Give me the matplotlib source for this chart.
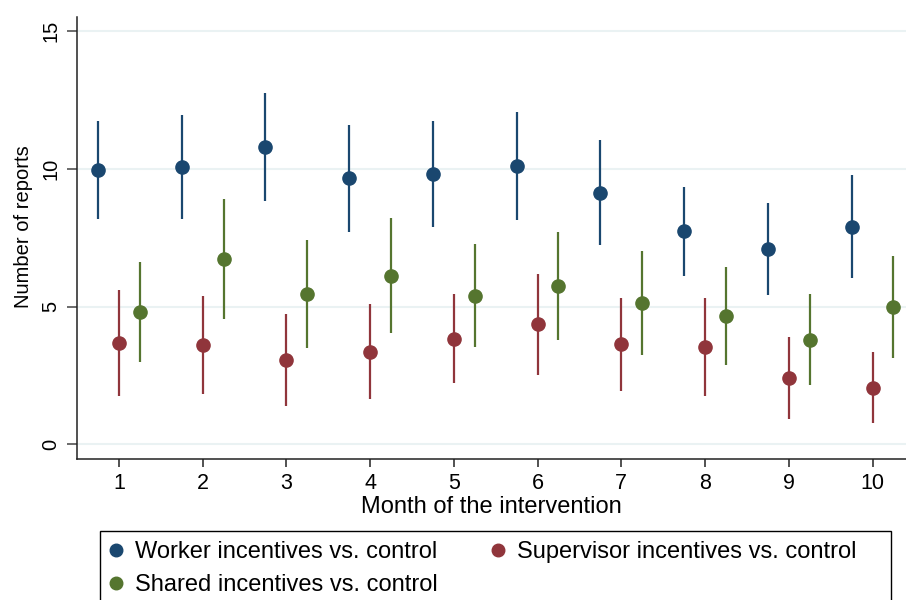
import numpy as np
import matplotlib
matplotlib.use("Agg")
import matplotlib.pyplot as plt
from matplotlib.patches import Rectangle

plt.rcParams['font.family'] = ['Liberation Sans', 'DejaVu Sans']

months = [1, 2, 3, 4, 5, 6, 7, 8, 9, 10]

# point estimates and 95% CI bounds
worker = [9.96, 10.05, 10.81, 9.66, 9.81, 10.11, 9.14, 7.74, 7.08, 7.89]
worker_lo = [8.17, 8.17, 8.85, 7.72, 7.88, 8.14, 7.23, 6.11, 5.41, 6.02]
worker_hi = [11.75, 11.95, 12.76, 11.60, 11.73, 12.07, 11.04, 9.34, 8.75, 9.77]

supervisor = [3.68, 3.62, 3.07, 3.36, 3.84, 4.36, 3.63, 3.52, 2.40, 2.05]
supervisor_lo = [1.77, 1.84, 1.40, 1.65, 2.21, 2.52, 1.95, 1.75, 0.91, 0.77]
supervisor_hi = [5.59, 5.40, 4.72, 5.08, 5.45, 6.19, 5.30, 5.30, 3.89, 3.35]

shared = [4.82, 6.73, 5.45, 6.12, 5.40, 5.75, 5.13, 4.65, 3.80, 4.98]
shared_lo = [3.00, 4.54, 3.49, 4.04, 3.53, 3.79, 3.24, 2.87, 2.17, 3.13]
shared_hi = [6.61, 8.91, 7.41, 8.22, 7.26, 7.70, 7.01, 6.43, 5.45, 6.85]

series = [
    ("Worker incentives vs. control", worker, worker_lo, worker_hi, "#1a476f", -0.25),
    ("Supervisor incentives vs. control", supervisor, supervisor_lo, supervisor_hi, "#90353b", 0.0),
    ("Shared incentives vs. control", shared, shared_lo, shared_hi, "#55752f", 0.25),
]

W, H = 906, 600
fig = plt.figure(figsize=(W / 100, H / 100), dpi=100)
ax = fig.add_axes([77 / W, 1 - 458.7 / H, 1 - 77 / W, (458.7 - 17) / H])

for y in [0, 5, 10, 15]:
    ax.axhline(y, color="#eaf2f3", lw=1.5, zorder=0)

handles = []
for name, est, lo, hi, col, off in series:
    x = np.array(months) + off
    ax.vlines(x, lo, hi, color=col, lw=1.6, zorder=2)
    h, = ax.plot(x, est, 'o', color=col, ms=9.5, zorder=3, label=name)
    handles.append(h)

ax.set_xlim(0.5, 10.40)
ax.set_ylim(-0.52, 15.51)
ax.set_xticks(months)
ax.set_yticks([0, 5, 10, 15])
for s in ['top', 'right']:
    ax.spines[s].set_visible(False)
for s in ['left', 'bottom']:
    ax.spines[s].set_linewidth(1.1)
    ax.spines[s].set_color('#222222')
ax.tick_params(axis='y', length=7, width=1.1, pad=5, labelsize=14.5, labelrotation=90, color='#444444')
ax.tick_params(axis='x', length=6, width=1.1, pad=4, labelsize=15.5, color='#222222')
for lab in ax.get_yticklabels():
    lab.set_va('center')
ax.set_xlabel("Month of the intervention", fontsize=17, labelpad=2)
ax.set_ylabel("Number of reports", fontsize=14.5, labelpad=6)
ax.yaxis.label.set_y(0.525)

# legend frame (runs off the bottom edge like the reference)
fig.patches.append(Rectangle((100 / W, -0.05), (891 - 100) / W, 0.05 + 1 - 531 / H,
                             transform=fig.transFigure, fill=False,
                             edgecolor='black', lw=1.0))

# legend order: worker, supervisor on row 1, shared on row 2
leg = fig.legend([handles[0], handles[2], handles[1]],
                 [series[0][0], series[2][0], series[1][0]],
                 loc='upper left', ncol=2,
                 bbox_to_anchor=(104 / W, 1 - 541 / H),
                 fontsize=17, frameon=False,
                 handletextpad=0.3, handlelength=1.0, borderpad=0.0,
                 borderaxespad=0.0, labelspacing=0.48, columnspacing=2.07,
                 markerscale=0.95)

fig.savefig("out.png", dpi=100)
